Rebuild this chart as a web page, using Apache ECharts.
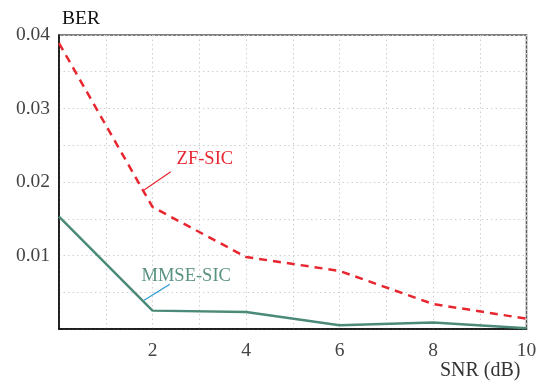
<!DOCTYPE html>
<html>
<head>
<meta charset="utf-8">
<script src="https://cdn.jsdelivr.net/npm/echarts@6/dist/echarts.min.js"></script>
<style>
  html, body { margin: 0; padding: 0; background: #fff; }
  #chart { width: 547px; height: 385px; }
</style>
</head>
<body>
<div id="chart"></div>
<script>
// SNR values (dB)
const snr = [0, 2, 4, 6, 8, 10];
// bit error rate
const berZF = [0.0389, 0.0166, 0.0098, 0.0079, 0.0034, 0.0014];
const berMMSE = [0.0153, 0.0025, 0.0023, 0.0005, 0.0009, 0.0001];

// annotation labels and pointer lines, in data coords
const zfNote = { text: 'ZF-SIC', at: [3.12, 0.0231], from: [2.39, 0.0214], to: [1.82, 0.0189] };
const mmseNote = { text: 'MMSE-SIC', at: [2.72, 0.0072], from: [2.37, 0.0061], to: [1.82, 0.0039] };

const serif = '"Liberation Serif", "DejaVu Serif", serif';
const red = '#e8262f';
const teal = '#4b8a78';

function pairs(xs, ys) {
  return xs.map((x, i) => [x, ys[i]]);
}

function note(n, textColor, lineColor) {
  return {
    markLine: {
      silent: true,
      symbol: 'none',
      animation: false,
      label: { show: false },
      lineStyle: { color: lineColor, width: 1.2, type: 'solid' },
      data: [[{ coord: n.from }, { coord: n.to }]]
    },
    markPoint: {
      silent: true,
      symbol: 'circle',
      symbolSize: 0,
      animation: false,
      label: {
        show: true,
        formatter: n.text,
        color: textColor,
        fontFamily: serif,
        fontSize: 18.5,
        position: 'inside'
      },
      data: [{ coord: n.at }]
    }
  };
}

const chart = echarts.init(document.getElementById('chart'));
chart.setOption({
  animation: false,
  grid: {
    left: 59, right: 20.5, top: 35, bottom: 56,
    containLabel: false,
    outerBoundsMode: 'none',
    show: true, borderColor: '#555', borderWidth: 1.5
  },
  xAxis: {
    type: 'value',
    min: 0, max: 10, interval: 1,
    name: 'SNR (dB)',
    nameLocation: 'end',
    nameGap: -6,
    nameMoveOverlap: false,
    nameTextStyle: {
      fontFamily: serif, fontSize: 20, color: '#333',
      align: 'right', verticalAlign: 'top', padding: [32, 0, 0, 0]
    },
    axisLine: { show: true, lineStyle: { color: '#000', width: 1.5 } },
    axisTick: { show: false },
    axisLabel: {
      fontFamily: serif, fontSize: 19.5, color: '#444', margin: 12,
      formatter: v => (v > 0 && v % 2 === 0) ? String(v) : ''
    },
    splitLine: { show: true, lineStyle: { color: '#cfcfcf', type: [1.5, 3], width: 1 } }
  },
  yAxis: {
    type: 'value',
    min: 0, max: 0.04, interval: 0.005,
    name: 'BER',
    nameLocation: 'end',
    nameGap: 6,
    nameMoveOverlap: false,
    nameTextStyle: {
      fontFamily: serif, fontSize: 19.5, color: '#111',
      align: 'left', padding: [0, 0, 0, 3]
    },
    axisLine: { show: true, lineStyle: { color: '#000', width: 1.5 } },
    axisTick: { show: false },
    axisLabel: {
      fontFamily: serif, fontSize: 19.5, color: '#444', margin: 9,
      formatter: v => {
        const k = Math.round(v * 1000);
        return (k > 0 && k % 10 === 0) ? (k / 1000).toFixed(2) : '';
      }
    },
    splitLine: { show: true, lineStyle: { color: '#cfcfcf', type: [1.5, 3], width: 1 } }
  },
  series: [
    Object.assign({
      name: 'ZF-SIC',
      type: 'line',
      data: pairs(snr, berZF),
      symbol: 'none',
      lineStyle: { color: red, width: 2.5, type: [8, 6] },
      z: 3
    }, note(zfNote, red, red)),
    Object.assign({
      name: 'MMSE-SIC',
      type: 'line',
      data: pairs(snr, berMMSE),
      symbol: 'none',
      lineStyle: { color: teal, width: 2.5 },
      z: 3
    }, note(mmseNote, '#5a9282', '#2b9ad6'))
  ]
});
</script>
</body>
</html>
